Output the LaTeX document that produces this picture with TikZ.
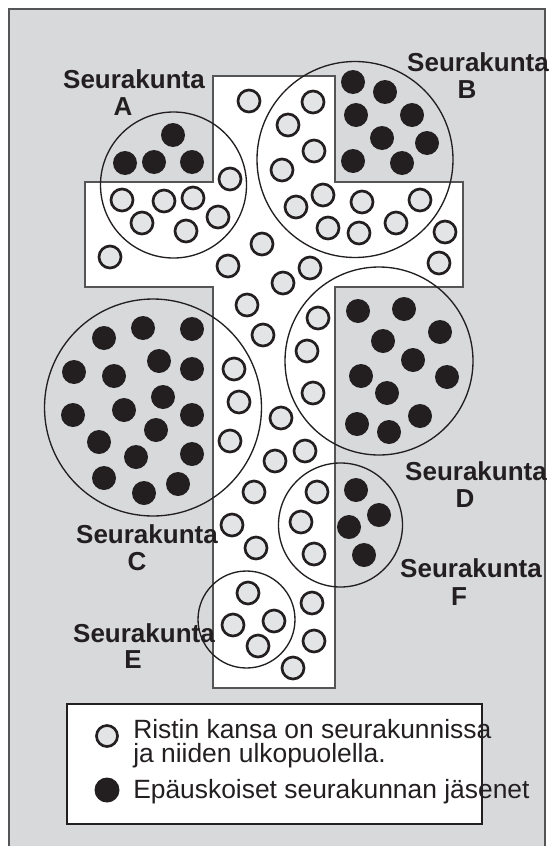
\documentclass[tikz,border=0pt]{standalone}
\usepackage{fontspec}
\setmainfont{Liberation Sans}
\definecolor{bggray}{RGB}{216,217,219}
\definecolor{dotgray}{RGB}{227,228,230}
\definecolor{edgegray}{RGB}{85,85,85}
\definecolor{ink}{RGB}{35,31,32}

\begin{document}
\begin{tikzpicture}[x=0.75pt, y=-0.75pt,
	parish/.style={draw=ink, line width=1pt},
	member/.style={draw=ink, fill=dotgray, line width=2pt},
	unbeliever/.style={fill=ink},
	lbl/.style={font=\fontsize{19.5}{21}\selectfont\bfseries, text=ink, inner sep=0pt, anchor=base},
	legtext/.style={font=\fontsize{19.8}{18}\selectfont, text=ink, inner sep=0pt, anchor=base west}]
	\useasboundingbox (0,0) rectangle (552,846);
	\draw[edgegray, fill=bggray, line width=1pt] (9,9) rectangle (545,870);
	% the cross
	\draw[edgegray, fill=white, line width=1pt] (213,76) -- (335,76) -- (335,182) -- (463,182) -- (463,287) -- (335,287) -- (335,688) -- (213,688) -- (213,287) -- (85,287) -- (85,182) -- (213,182) -- cycle;
	% congregations
	\draw[parish] (173.5,185) circle[radius=73];
	\draw[parish] (355,159.5) circle[radius=98];
	\draw[parish] (153,407.5) circle[radius=108.5];
	\draw[parish] (379,361) circle[radius=94];
	\draw[parish] (246.5,619.5) circle[radius=48.5];
	\draw[parish] (340.5,525) circle[radius=62];
	% people of the cross
	\foreach \x/\y in {249/101, 313/102, 288/125, 314/151, 282/170, 230/179, 122/200, 164/201, 193/198, 142/223,
		186/231, 218/217, 110/257, 228/266, 262/244, 323/195, 296/207, 362/202, 420/200, 328/228,
		359/233, 396/223, 445/232, 439/263, 310/268, 283/283, 247/305, 263/335, 318/318, 307/351,
		234/369, 239/402, 313/393, 281/418, 230/441, 275/461, 305/451, 254/492, 317/492, 232/525,
		301/522, 256/548, 314/554, 248/593, 233/625, 274/621, 258/646, 312/603, 314/641, 293/668}
		\draw[member] (\x,\y) circle[radius=11];
	% unbelieving members
	\foreach \x/\y in {173/135, 125/163, 154/162, 192/162,
		353/82, 385/92, 356/115, 412/115, 382/138, 427/143, 353/161, 402/163,
		104/338, 143/328, 192/329, 74/372, 114/376, 159/361, 192/369, 163/397, 73/415, 124/410,
		192/415, 156/430, 99/442, 136/457, 192/454, 104/478, 144/493, 178/484,
		358/311, 404/309, 440/332, 383/341, 413/360, 361/376, 447/377, 387/393, 420/416, 357/424, 389/432,
		356/490, 379/515, 349/527, 364/555}
		\fill[unbeliever] (\x,\y) circle[radius=12];
	% labels
	\node[lbl] (labA) at (134,88) {Seurakunta};
	\node[lbl] (letA) at (123,115) {A};
	\node[lbl] (labB) at (478,71) {Seurakunta};
	\node[lbl] (letB) at (467,98) {B};
	\node[lbl] (labC) at (147,543) {Seurakunta};
	\node[lbl] (letC) at (137,570) {C};
	\node[lbl] (labD) at (476,480) {Seurakunta};
	\node[lbl] (letD) at (465,507) {D};
	\node[lbl] (labE) at (144,642) {Seurakunta};
	\node[lbl] (letE) at (133,668) {E};
	\node[lbl] (labF) at (471,577) {Seurakunta};
	\node[lbl] (letF) at (459,605) {F};
	% legend
	\draw[ink, fill=white, line width=1pt] (67,704) rectangle (482,824);
	\draw[member] (107,736) circle[radius=10.5];
	\fill[unbeliever] (107,790) circle[radius=12.5];
	\node[legtext] (leg1) at (133,738) {Ristin kansa on seurakunnissa};
	\node[legtext] (leg1b) at (133,762) {ja niiden ulkopuolella.};
	\node[legtext] (leg2) at (133,798) {Epäuskoiset seurakunnan jäsenet};
\end{tikzpicture}
\end{document}
